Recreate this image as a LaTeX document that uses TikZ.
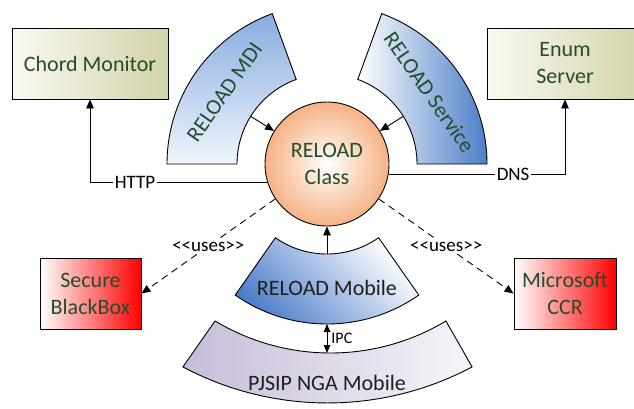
\documentclass[tikz,border=0pt]{standalone}
\usepackage{fontspec}
\setmainfont{Carlito}
\usetikzlibrary{arrows.meta,calc}

\definecolor{txtgreen}{RGB}{36,76,46}
\definecolor{beigeL}{RGB}{250,250,243}
\definecolor{beigeR}{RGB}{211,211,170}
\definecolor{mdiTop}{RGB}{136,172,224}
\definecolor{mdiBot}{RGB}{240,245,252}
\definecolor{svcR}{RGB}{76,126,200}
\definecolor{mobDark}{RGB}{72,122,200}
\definecolor{pjL}{RGB}{198,188,216}
\definecolor{pjR}{RGB}{247,245,250}
\definecolor{orangeO}{RGB}{246,178,132}

\begin{document}
\begin{tikzpicture}[x=1pt,y=-1pt,
  arr/.style={-{Triangle[length=9pt,width=7.5pt]}, line width=0.9pt},
  dblarr/.style={{Triangle[length=8pt,width=6.5pt]}-{Triangle[length=8pt,width=6.5pt]}, line width=0.9pt},
  usesarr/.style={arr, dash pattern=on 7pt off 5pt},
  outline/.style={draw=black, line width=0.9pt},
  box/.style={outline, rectangle, minimum height=71pt, inner sep=0pt,
    align=center, text=txtgreen, font=\fontsize{22}{27}\selectfont},
  beigebox/.style={box, minimum width=156pt, left color=beigeL, right color=beigeR},
  redbox/.style={box, left color=white, right color=red},
  lab/.style={fill=white, inner sep=2pt, text=black, font=\fontsize{19}{22}\selectfont},
  bigtext/.style={font=\fontsize{22}{27}\selectfont}
]
\useasboundingbox (0,0) rectangle (634,408);
\clip (0,0) rectangle (634,408);

\coordinate (C) at (327,164);

% block arcs around the class
\draw[outline, top color=mdiTop, bottom color=mdiBot]
  ($(C)+(-180:160)$) arc[start angle=-180, end angle=-110, radius=160]
  -- ($(C)+(-110:90)$) arc[start angle=-110, end angle=-180, radius=90] -- cycle;
\draw[outline, left color=white, right color=svcR]
  ($(C)+(-70:160)$) arc[start angle=-70, end angle=0, radius=160]
  -- ($(C)+(0:90)$) arc[start angle=0, end angle=-70, radius=90] -- cycle;
\draw[outline, top color=white, bottom color=mobDark, shading angle=-45]
  ($(C)+(55:90)$) arc[start angle=55, end angle=125, radius=90]
  -- ($(C)+(125:160)$) arc[start angle=125, end angle=55, radius=160] -- cycle;
\draw[outline, left color=pjL, right color=pjR]
  (215,321) -- (182.9,366.9)
  arc[start angle=118, end angle=62, radius=308]
  -- (445.9,321)
  arc[start angle=59, end angle=121, radius=224] -- cycle;

\node[bigtext, text=txtgreen, rotate=55] (mditxt) at ($(C)+(-145:125)$) {RELOAD MDI};
\node[bigtext, text=txtgreen, rotate=-55] (svctxt) at ($(C)+(-35:125)$) {RELOAD Service};
\node[bigtext, text=black!88] (mobtxt) at (327,288) {RELOAD Mobile};
\node[bigtext, text=black!88] (pjtxt) at (327,383) {PJSIP NGA Mobile};

% central class
\node[circle, outline, minimum size=124pt, inner sep=0pt, inner color=white,
  outer color=orangeO, align=center, text=txtgreen,
  font=\fontsize{22}{27}\selectfont] (cls) at (C) {RELOAD\\Class};

% external components
\node[beigebox] (chord) at (90,63.5) {Chord Monitor};
\node[beigebox] (enum) at (565,63.5) {Enum\\Server};
\node[redbox, minimum width=101pt] (sbb) at (90.5,293.5) {Secure\\BlackBox};
\node[redbox, minimum width=102pt] (ccr) at (565,293.5) {Microsoft\\CCR};

% anchor points on the block arcs
\coordinate (mdiIn) at ($(C)+(-148:90)$);
\coordinate (svcIn) at ($(C)+(-32:90)$);
\coordinate (mobTop) at ($(C)+(90:90)$);
\coordinate (mobBot) at ($(C)+(90:160)$);
\coordinate (pjTop) at (327,353);

% connectors
\draw[arr] (mdiIn) -- (cls);
\draw[arr] (svcIn) -- (cls);
\draw[arr] (mobTop) -- (cls);
\draw[dblarr] (mobBot) -- node[right, inner sep=4pt, font=\fontsize{16}{19}\selectfont] (ipc) {IPC} (pjTop);
\draw[arr] (cls.197) -| node[lab, pos=0.373] (http) {HTTP} (chord.south);
\draw[arr] (cls.-10) -| node[lab, pos=0.353] (dns) {DNS} (enum.south);
\draw[usesarr] (cls.214) -- node[lab] (uses1) {<{}<uses>{}>} (sbb.east);
\draw[usesarr] (cls.-34) -- node[lab] (uses2) {<{}<uses>{}>} (ccr.west);
\end{tikzpicture}
\end{document}
